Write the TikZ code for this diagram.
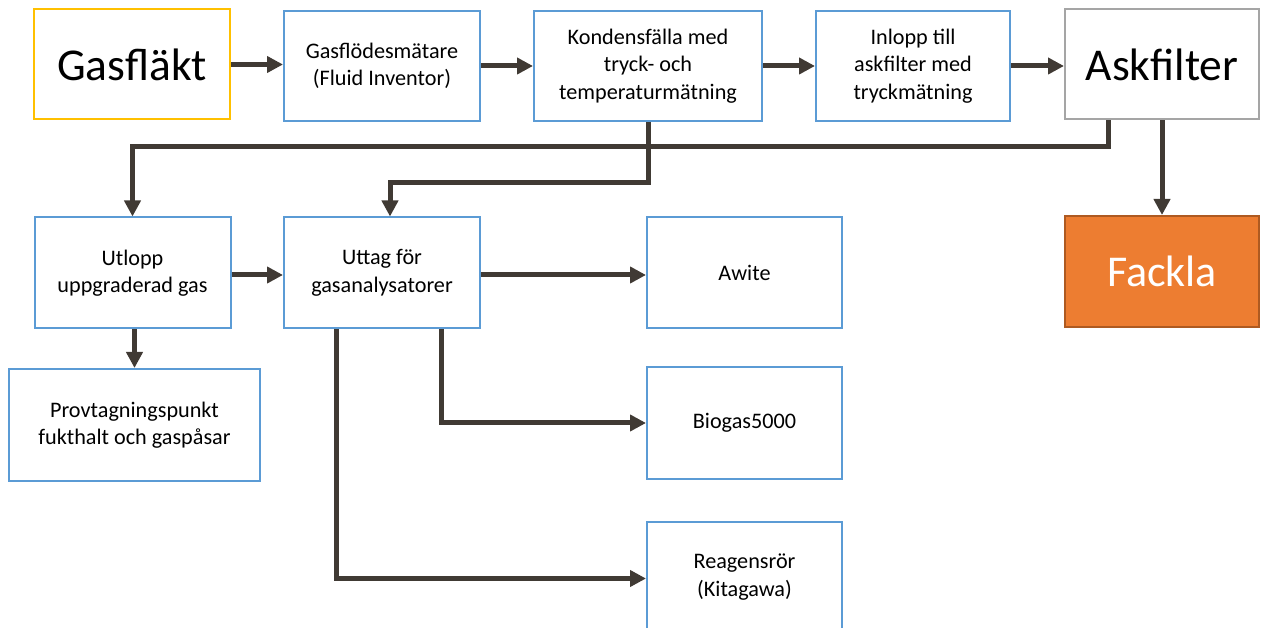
\documentclass[tikz,border=0pt]{standalone}
\usepackage{fontspec}
\setmainfont{Carlito}
\usetikzlibrary{arrows.meta}
\definecolor{bblue}{RGB}{91,155,213}
\definecolor{byellow}{RGB}{255,192,0}
\definecolor{bgrey}{RGB}{165,165,165}
\definecolor{forange}{RGB}{237,125,49}
\definecolor{dorange}{RGB}{174,90,33}
\definecolor{arrc}{RGB}{64,58,52}
\begin{document}
\begin{tikzpicture}[x=1pt,y=-1pt,
  box/.style={draw=bblue,line width=2pt,fill=white,minimum width=196pt,minimum height=110pt,align=center,inner sep=2pt,font=\fontsize{22.2}{27.5}\selectfont},
  bigbox/.style={box,font=\fontsize{45.5}{50}\selectfont},
  arr/.style={draw=arrc,line width=5pt,-{Triangle[length=16pt,width=16pt]}}]
\useasboundingbox (0,0) rectangle (1262,628);
\node[bigbox,draw=byellow] (gf) at (132,64.5) {Gasfläkt};
\node[box] (gm) at (382,66) {Gasflödesmätare\\(Fluid Inventor)};
\node[box,minimum width=228pt] (kf) at (648,66) {Kondensfälla med\\tryck- och\\temperaturmätning};
\node[box,minimum width=194pt] (ia) at (913,66) {Inlopp till\\askfilter med\\tryckmätning};
\node[bigbox,draw=bgrey,minimum width=194pt] (af) at (1162,64.5) {Askfilter};
\node[bigbox,draw=dorange,fill=forange,text=white,minimum width=194pt,minimum height=111pt,font=\fontsize{44}{50}\selectfont] (fa) at (1162,271.5) {Fackla};
\node[box,minimum height=111pt] (ut) at (132.5,273) {Utlopp\\uppgraderad gas};
\node[box,minimum height=111pt] (ug) at (382,273) {Uttag för\\gasanalysatorer};
\node[box,minimum width=195pt,minimum height=111pt] (aw) at (744.5,272.5) {Awite};
\node[box,minimum width=251pt,minimum height=112pt] (pr) at (134.5,425) {Provtagningspunkt\\fukthalt och gaspåsar};
\node[box,minimum width=195pt,minimum height=112pt] (bg) at (744.5,423) {Biogas5000};
\node[box,minimum width=195pt,minimum height=111pt] (re) at (744.5,577) {Reagensrör\\(Kitagawa)};
\coordinate (ugE) at ([yshift=-2pt]ug.east);
\draw[arr] (gf.east) -- (gm.west |- gf.east);
\draw[arr] (gm.east) -- (kf.west);
\draw[arr] (kf.east) -- (ia.west);
\draw[arr] (ia.east) -- (af.west |- ia.east);
\draw[arr] (af.south) -- (fa.north);
\draw[arr] ([xshift=-54pt]af.south) -- ++(0,26) -| (ut.north);
\draw[arr] (kf.south) -- ++(0,61) -| ([xshift=8pt]ug.north);
\draw[arr] ([yshift=-2pt]ut.east) -- ([yshift=-2pt]ug.west);
\draw[arr] (ugE) -- (aw.west |- ugE);
\draw[arr] ([xshift=59pt]ug.south) |- (bg.west);
\draw[arr] ([xshift=-46pt]ug.south) |- ([yshift=-1.5pt]re.west);
\draw[arr] (pr.north |- ut.south) -- (pr.north);
\end{tikzpicture}
\end{document}
